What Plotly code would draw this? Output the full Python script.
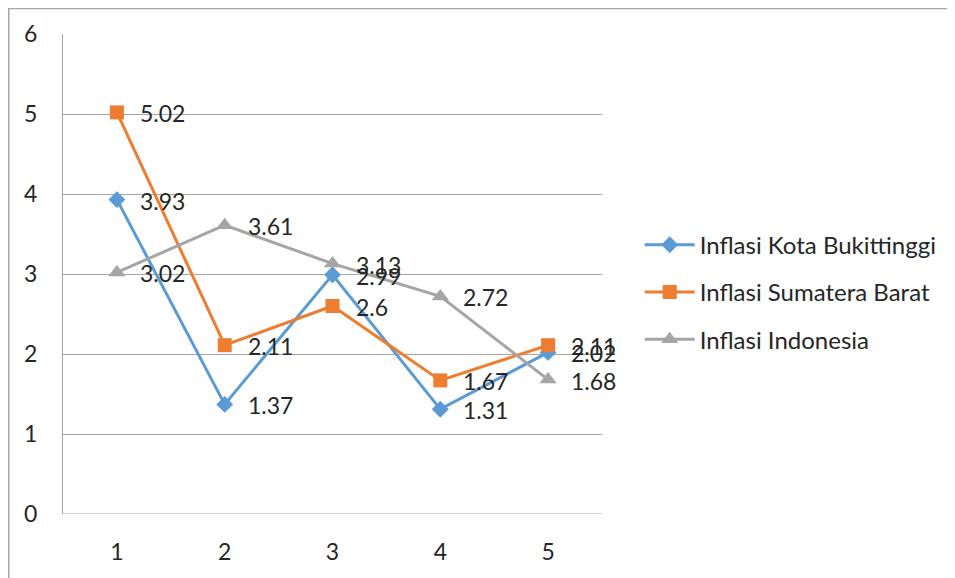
import plotly.graph_objects as go

categories = [1, 2, 3, 4, 5]
bukittinggi = [3.93, 1.37, 2.99, 1.31, 2.02]
sumbar = [5.02, 2.11, 2.6, 1.67, 2.11]
indonesia = [3.02, 3.61, 3.13, 2.72, 1.68]
y_ticks = [0, 1, 2, 3, 4, 5, 6]

series = [
    ("Inflasi Kota Bukittinggi", bukittinggi, "#5B9BD5", "diamond", 13),
    ("Inflasi Sumatera Barat", sumbar, "#ED7D31", "square", 14),
    ("Inflasi Indonesia", indonesia, "#A5A5A5", "triangle-up", 15),
]

FONT = "Lato, Carlito, Calibri, sans-serif"
W, H = 947, 570  # page adds an 8px body margin
L, T = 55, 26
PW, PH = 539, 480

fig = go.Figure()
annotations = []
for i, (name, vals, color, sym, size) in enumerate(series):
    fig.add_trace(go.Scatter(
        x=categories, y=vals, name=name, mode="lines+markers",
        line=dict(color=color, width=3),
        marker=dict(symbol=sym, size=size, color=color),
        legendgroup=f"g{i}",
    ))
    for xv, yv in zip(categories, vals):
        annotations.append(dict(
            x=xv, y=yv, text=str(yv), showarrow=False,
            xanchor="left", yanchor="middle", xshift=21, yshift=-1,
            font=dict(family=FONT, size=23, color="#262626"),
        ))

fig.update_layout(
    width=W, height=H,
    margin=dict(l=L, r=W - L - PW, t=T, b=H - T - PH),
    paper_bgcolor="white", plot_bgcolor="white",
    font=dict(family=FONT, size=23, color="#262626"),
    annotations=annotations,
    showlegend=True,
    legend=dict(
        x=1.07, y=0.607, xanchor="left", yanchor="top",
        font=dict(family=FONT, size=24, color="#262626"),
        itemwidth=50, tracegroupgap=13, bgcolor="rgba(0,0,0,0)",
    ),
    xaxis=dict(
        range=[0.5, 5.5], tickvals=categories, showgrid=False,
        zeroline=False, showline=False, ticks="",
        ticklabelstandoff=22, fixedrange=True,
    ),
    yaxis=dict(
        range=[0, 6], tickvals=y_ticks, showgrid=True,
        gridcolor="#A6A6A6", gridwidth=1, zeroline=False,
        showline=True, linecolor="#A6A6A6", linewidth=1,
        ticks="", ticklabelstandoff=20,
    ),
    shapes=[
        dict(type="line", xref="paper", yref="paper",
             x0=(0.5 - L) / PW, x1=(W + 5 - L) / PW,
             y0=(T + PH - 0.5) / PH, y1=(T + PH - 0.5) / PH,
             line=dict(color="#A6A6A6", width=1.5)),
        dict(type="line", xref="paper", yref="paper",
             x0=(0.75 - L) / PW, x1=(0.75 - L) / PW,
             y0=(T + PH) / PH, y1=(T + PH - H - 5) / PH,
             line=dict(color="#A6A6A6", width=1.5)),
        dict(type="line", xref="paper", yref="y",
             x0=0, x1=1, y0=0, y1=0,
             line=dict(color="#A6A6A6", width=1)),
    ],
)

fig.write_html("out.html")
